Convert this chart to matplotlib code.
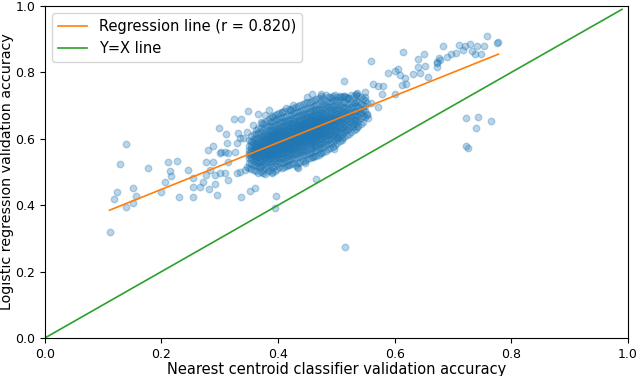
import matplotlib
matplotlib.use('Agg')
import matplotlib.pyplot as plt
import numpy as np

# dense core of the cloud, read column by column (x, list of y)
core_cols = [
    (0.350, [0.512, 0.528, 0.541, 0.550, 0.558, 0.567, 0.579, 0.596]),
    (0.358, [0.505, 0.520, 0.533, 0.541, 0.549, 0.556, 0.562, 0.569, 0.577, 0.586, 0.598, 0.614]),
    (0.366, [0.498, 0.517, 0.528, 0.537, 0.545, 0.552, 0.559, 0.565, 0.571, 0.578, 0.585, 0.593, 0.603, 0.617, 0.632]),
    (0.374, [0.507, 0.522, 0.534, 0.543, 0.551, 0.558, 0.566, 0.573, 0.579, 0.587, 0.595, 0.604, 0.613, 0.626, 0.644]),
    (0.382, [0.502, 0.516, 0.529, 0.539, 0.547, 0.554, 0.561, 0.567, 0.573, 0.579, 0.585, 0.592, 0.599, 0.607, 0.616, 0.627, 0.640, 0.656]),
    (0.390, [0.497, 0.515, 0.528, 0.538, 0.547, 0.555, 0.562, 0.568, 0.574, 0.580, 0.586, 0.591, 0.597, 0.604, 0.611, 0.619, 0.628, 0.639, 0.652, 0.668]),
    (0.398, [0.508, 0.523, 0.535, 0.545, 0.553, 0.561, 0.568, 0.574, 0.580, 0.586, 0.592, 0.598, 0.604, 0.610, 0.617, 0.625, 0.634, 0.645, 0.659, 0.676]),
    (0.406, [0.511, 0.527, 0.539, 0.549, 0.558, 0.566, 0.573, 0.579, 0.585, 0.591, 0.597, 0.603, 0.609, 0.615, 0.622, 0.630, 0.639, 0.650, 0.663, 0.681]),
    (0.414, [0.519, 0.534, 0.545, 0.555, 0.563, 0.571, 0.578, 0.584, 0.590, 0.596, 0.602, 0.608, 0.614, 0.620, 0.627, 0.635, 0.644, 0.655, 0.668, 0.692]),
    (0.422, [0.524, 0.538, 0.550, 0.560, 0.568, 0.576, 0.583, 0.589, 0.595, 0.601, 0.607, 0.613, 0.619, 0.625, 0.632, 0.640, 0.649, 0.660, 0.673, 0.688]),
    (0.430, [0.522, 0.541, 0.554, 0.565, 0.574, 0.582, 0.589, 0.595, 0.601, 0.607, 0.613, 0.619, 0.625, 0.631, 0.638, 0.646, 0.655, 0.666, 0.680, 0.697]),
    (0.438, [0.531, 0.548, 0.560, 0.570, 0.579, 0.587, 0.594, 0.600, 0.606, 0.612, 0.618, 0.624, 0.630, 0.636, 0.643, 0.651, 0.660, 0.671, 0.684, 0.702]),
    (0.446, [0.534, 0.552, 0.564, 0.575, 0.584, 0.592, 0.599, 0.605, 0.611, 0.617, 0.623, 0.629, 0.635, 0.641, 0.648, 0.656, 0.665, 0.676, 0.689, 0.708]),
    (0.454, [0.541, 0.557, 0.570, 0.580, 0.589, 0.597, 0.604, 0.610, 0.616, 0.622, 0.628, 0.634, 0.640, 0.646, 0.653, 0.661, 0.670, 0.681, 0.694, 0.712]),
    (0.462, [0.547, 0.563, 0.575, 0.585, 0.594, 0.602, 0.609, 0.615, 0.621, 0.627, 0.633, 0.639, 0.645, 0.651, 0.658, 0.666, 0.675, 0.686, 0.699, 0.718]),
    (0.470, [0.551, 0.568, 0.580, 0.591, 0.600, 0.608, 0.615, 0.621, 0.627, 0.633, 0.639, 0.645, 0.651, 0.657, 0.664, 0.672, 0.681, 0.691, 0.704, 0.722]),
    (0.478, [0.560, 0.576, 0.588, 0.598, 0.607, 0.615, 0.622, 0.629, 0.636, 0.643, 0.650, 0.657, 0.664, 0.672, 0.681, 0.692, 0.705, 0.724]),
    (0.486, [0.568, 0.585, 0.597, 0.607, 0.616, 0.624, 0.632, 0.640, 0.648, 0.656, 0.664, 0.673, 0.683, 0.695, 0.708, 0.726]),
    (0.494, [0.575, 0.591, 0.603, 0.613, 0.622, 0.630, 0.638, 0.646, 0.654, 0.662, 0.670, 0.679, 0.689, 0.700, 0.713, 0.729]),
    (0.502, [0.588, 0.603, 0.615, 0.625, 0.634, 0.643, 0.651, 0.659, 0.667, 0.676, 0.686, 0.697, 0.710, 0.727]),
    (0.510, [0.597, 0.614, 0.626, 0.637, 0.647, 0.656, 0.665, 0.674, 0.684, 0.695, 0.708, 0.725]),
    (0.518, [0.611, 0.627, 0.640, 0.651, 0.661, 0.671, 0.681, 0.692, 0.705, 0.722]),
    (0.526, [0.622, 0.638, 0.651, 0.662, 0.673, 0.684, 0.696, 0.710, 0.731]),
    (0.534, [0.630, 0.648, 0.661, 0.673, 0.685, 0.698, 0.713, 0.733]),
    (0.542, [0.645, 0.662, 0.677, 0.691, 0.706, 0.725]),
    (0.550, [0.665, 0.683, 0.700, 0.718]),
]

# second pass over the core, between the first columns
core_cols_b = [
    (0.354, [0.508, 0.524, 0.536, 0.546, 0.554, 0.562, 0.571, 0.582, 0.594, 0.607]),
    (0.362, [0.502, 0.518, 0.530, 0.539, 0.547, 0.554, 0.561, 0.568, 0.575, 0.583, 0.592, 0.602, 0.615, 0.628]),
    (0.370, [0.501, 0.519, 0.531, 0.540, 0.548, 0.555, 0.562, 0.569, 0.575, 0.582, 0.590, 0.598, 0.608, 0.620, 0.634, 0.652]),
    (0.378, [0.495, 0.512, 0.526, 0.536, 0.545, 0.552, 0.559, 0.565, 0.571, 0.577, 0.583, 0.590, 0.598, 0.607, 0.618, 0.632, 0.650]),
    (0.386, [0.506, 0.521, 0.533, 0.543, 0.551, 0.558, 0.564, 0.570, 0.576, 0.582, 0.588, 0.594, 0.601, 0.608, 0.617, 0.627, 0.638, 0.651, 0.663]),
    (0.394, [0.502, 0.519, 0.532, 0.542, 0.550, 0.558, 0.565, 0.571, 0.577, 0.583, 0.589, 0.595, 0.601, 0.607, 0.614, 0.622, 0.631, 0.642, 0.656, 0.672]),
    (0.402, [0.515, 0.530, 0.542, 0.551, 0.559, 0.566, 0.573, 0.579, 0.585, 0.591, 0.597, 0.603, 0.609, 0.616, 0.623, 0.631, 0.640, 0.651, 0.664, 0.679]),
    (0.410, [0.516, 0.531, 0.543, 0.553, 0.561, 0.568, 0.575, 0.581, 0.587, 0.593, 0.599, 0.605, 0.611, 0.618, 0.625, 0.633, 0.642, 0.653, 0.666, 0.684]),
    (0.418, [0.521, 0.536, 0.548, 0.558, 0.566, 0.573, 0.580, 0.586, 0.592, 0.598, 0.604, 0.610, 0.616, 0.623, 0.630, 0.638, 0.647, 0.658, 0.671, 0.690]),
    (0.426, [0.528, 0.543, 0.555, 0.564, 0.572, 0.579, 0.586, 0.592, 0.598, 0.604, 0.610, 0.616, 0.622, 0.629, 0.636, 0.644, 0.653, 0.664, 0.677, 0.694]),
    (0.434, [0.527, 0.545, 0.557, 0.567, 0.576, 0.584, 0.591, 0.597, 0.603, 0.609, 0.615, 0.621, 0.627, 0.634, 0.641, 0.649, 0.658, 0.669, 0.682, 0.700]),
    (0.442, [0.533, 0.550, 0.562, 0.572, 0.581, 0.589, 0.596, 0.602, 0.608, 0.614, 0.620, 0.626, 0.632, 0.639, 0.646, 0.654, 0.663, 0.674, 0.687, 0.705]),
    (0.450, [0.538, 0.555, 0.567, 0.577, 0.586, 0.594, 0.601, 0.607, 0.613, 0.619, 0.625, 0.631, 0.637, 0.644, 0.651, 0.659, 0.668, 0.679, 0.692, 0.710]),
    (0.458, [0.544, 0.560, 0.572, 0.583, 0.592, 0.600, 0.607, 0.613, 0.619, 0.625, 0.631, 0.637, 0.643, 0.649, 0.656, 0.664, 0.673, 0.684, 0.697, 0.715]),
    (0.466, [0.549, 0.566, 0.578, 0.588, 0.597, 0.605, 0.612, 0.618, 0.624, 0.630, 0.636, 0.642, 0.648, 0.654, 0.661, 0.669, 0.678, 0.689, 0.702, 0.720]),
    (0.474, [0.556, 0.572, 0.584, 0.594, 0.603, 0.611, 0.618, 0.625, 0.632, 0.639, 0.646, 0.653, 0.660, 0.668, 0.677, 0.687, 0.699, 0.713, 0.728]),
    (0.482, [0.564, 0.580, 0.592, 0.602, 0.611, 0.619, 0.627, 0.635, 0.643, 0.651, 0.659, 0.668, 0.678, 0.689, 0.701, 0.715, 0.731]),
    (0.490, [0.572, 0.588, 0.600, 0.610, 0.619, 0.627, 0.635, 0.643, 0.651, 0.659, 0.667, 0.676, 0.686, 0.697, 0.710, 0.726]),
    (0.498, [0.582, 0.597, 0.609, 0.619, 0.628, 0.637, 0.645, 0.653, 0.661, 0.670, 0.679, 0.690, 0.702, 0.716, 0.732]),
    (0.506, [0.592, 0.609, 0.621, 0.632, 0.642, 0.651, 0.660, 0.669, 0.679, 0.690, 0.702, 0.716, 0.730]),
    (0.514, [0.604, 0.620, 0.633, 0.644, 0.654, 0.664, 0.674, 0.685, 0.697, 0.711, 0.728]),
    (0.522, [0.616, 0.633, 0.646, 0.657, 0.668, 0.679, 0.691, 0.705, 0.722]),
    (0.530, [0.627, 0.644, 0.657, 0.669, 0.681, 0.694, 0.709, 0.728]),
    (0.538, [0.638, 0.655, 0.669, 0.683, 0.697, 0.712, 0.730]),
    (0.546, [0.652, 0.670, 0.686, 0.701, 0.719]),
]

# sparse points to the left of the core
left_pts = [
    (0.111, 0.318), (0.119, 0.418), (0.124, 0.441), (0.129, 0.524), (0.140, 0.583),
    (0.140, 0.396), (0.151, 0.453), (0.151, 0.408), (0.156, 0.429), (0.177, 0.511),
    (0.200, 0.441), (0.206, 0.469), (0.212, 0.529), (0.214, 0.504), (0.216, 0.488),
    (0.226, 0.534), (0.230, 0.426), (0.245, 0.506), (0.254, 0.426), (0.254, 0.454),
    (0.254, 0.481), (0.266, 0.454), (0.272, 0.471), (0.277, 0.491), (0.277, 0.529),
    (0.280, 0.566), (0.282, 0.449), (0.283, 0.506), (0.289, 0.529), (0.289, 0.578),
    (0.292, 0.463), (0.292, 0.491), (0.296, 0.431), (0.298, 0.632), (0.300, 0.556),
    (0.300, 0.496), (0.303, 0.561), (0.309, 0.561), (0.309, 0.496), (0.310, 0.616),
    (0.312, 0.588), (0.314, 0.531), (0.315, 0.476), (0.314, 0.556), (0.324, 0.661),
    (0.326, 0.561), (0.329, 0.586), (0.329, 0.496), (0.332, 0.617), (0.334, 0.601),
    (0.334, 0.501), (0.337, 0.424), (0.337, 0.659), (0.340, 0.601), (0.343, 0.506),
    (0.346, 0.516), (0.346, 0.622), (0.349, 0.684), (0.352, 0.444), (0.355, 0.591),
    (0.357, 0.642), (0.360, 0.451), (0.366, 0.674), (0.369, 0.516), (0.372, 0.647),
    (0.374, 0.496), (0.377, 0.672), (0.385, 0.686), (0.389, 0.501), (0.392, 0.667),
    (0.394, 0.391), (0.397, 0.428),
]

# fringe around the core
fringe_pts = [
    (0.406, 0.682), (0.420, 0.687), (0.426, 0.702), (0.449, 0.727), (0.459, 0.735),
    (0.473, 0.735), (0.492, 0.722), (0.506, 0.727), (0.513, 0.775), (0.517, 0.727),
    (0.533, 0.735), (0.535, 0.737), (0.549, 0.727), (0.549, 0.742), (0.520, 0.722),
    (0.514, 0.729), (0.532, 0.707), (0.552, 0.709), (0.560, 0.707), (0.572, 0.697),
    (0.540, 0.677), (0.552, 0.675), (0.532, 0.657), (0.529, 0.636), (0.515, 0.627),
    (0.552, 0.672), (0.555, 0.662), (0.535, 0.636), (0.503, 0.603), (0.509, 0.601),
    (0.496, 0.568), (0.472, 0.556), (0.466, 0.478), (0.432, 0.516), (0.417, 0.521),
    (0.434, 0.511), (0.446, 0.526), (0.460, 0.546), (0.515, 0.275),
]

# upper right tail and outliers
right_pts = [
    (0.559, 0.834), (0.563, 0.765), (0.572, 0.759), (0.580, 0.759), (0.578, 0.735),
    (0.600, 0.735), (0.589, 0.797), (0.600, 0.804), (0.606, 0.809), (0.609, 0.792),
    (0.617, 0.782), (0.620, 0.765), (0.612, 0.762), (0.632, 0.795), (0.643, 0.797),
    (0.640, 0.815), (0.652, 0.819), (0.657, 0.785), (0.672, 0.829), (0.678, 0.837),
    (0.614, 0.862), (0.650, 0.854), (0.640, 0.840), (0.683, 0.880), (0.711, 0.883),
    (0.720, 0.880), (0.730, 0.886), (0.742, 0.880), (0.753, 0.880), (0.718, 0.867),
    (0.706, 0.857), (0.696, 0.854), (0.689, 0.847), (0.676, 0.842), (0.673, 0.832),
    (0.672, 0.815), (0.738, 0.855), (0.749, 0.855), (0.732, 0.865), (0.758, 0.910),
    (0.778, 0.891), (0.776, 0.888), (0.723, 0.662), (0.743, 0.667), (0.766, 0.654),
    (0.739, 0.632), (0.722, 0.578), (0.725, 0.571),
]

# regression line end points and y=x line
reg_x = [0.111, 0.778]
reg_y = [0.385, 0.855]
diag = [0.0, 0.99]

xs, ys = [], []
for cx, col in core_cols + core_cols_b:
    xs += [cx] * len(col)
    ys += col
for pts in (left_pts, fringe_pts, right_pts):
    xs += [p[0] for p in pts]
    ys += [p[1] for p in pts]

fig = plt.figure(figsize=(6.4, 3.76), dpi=100)
ax = fig.add_axes([0.070, 0.101, 0.911, 0.883])

ax.scatter(xs, ys, s=22, alpha=0.3, color='C0')
ax.plot(reg_x, reg_y, color='C1', linewidth=1.2, label='Regression line (r = 0.820)')
ax.plot(diag, diag, color='C2', linewidth=1.2, label='Y=X line')

ax.set_xlim(0, 1)
ax.set_ylim(0, 1)
ax.set_xlabel('Nearest centroid classifier validation accuracy', fontsize=10.5, labelpad=1)
ax.set_ylabel('Logistic regression validation accuracy', fontsize=10.3, labelpad=1)
ax.tick_params(labelsize=9)
ax.legend(loc='upper left', fontsize=10.5)

fig.savefig('out.png', dpi=100)
